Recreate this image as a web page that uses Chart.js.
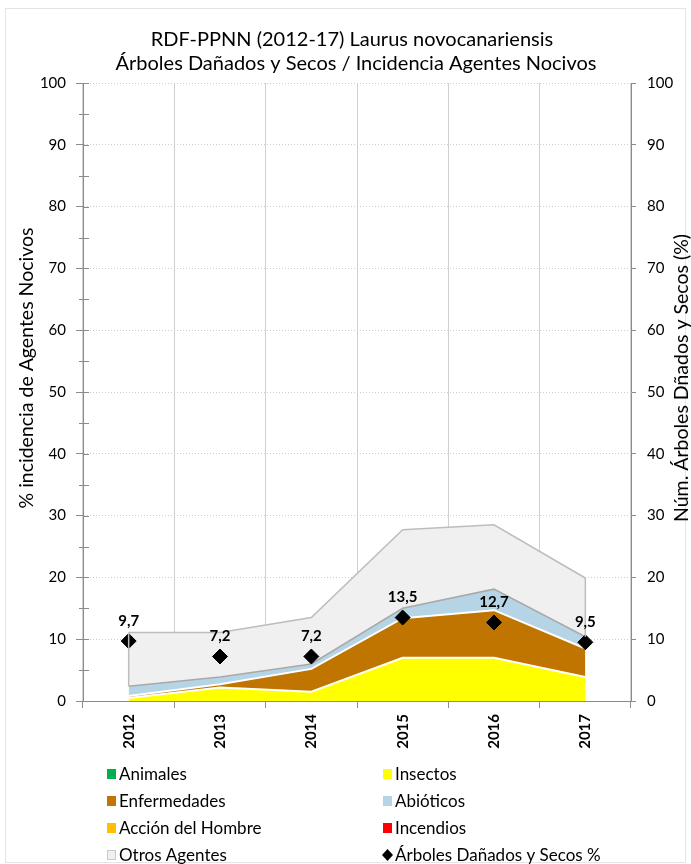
<!DOCTYPE html>
<html>
<head>
<meta charset="utf-8">
<script src="https://cdn.jsdelivr.net/npm/chart.js@4.4.1/dist/chart.umd.min.js"></script>
<style>
  html, body { margin: 0; padding: 0; background: #fff; }
  #wrap { width: 691px; height: 864px; position: relative; }
</style>
</head>
<body>
<div id="wrap"><canvas id="chart"></canvas></div>
<script>
const years = ['2012', '2013', '2014', '2015', '2016', '2017'];

// % incidencia por agente (apilado)
const animales = [0, 0, 0, 0, 0, 0];
const insectos = [0.5, 2.2, 1.5, 7.0, 7.0, 3.9];
const enfermedades = [0.3, 0.5, 3.7, 6.4, 7.7, 4.6];
const abioticos = [1.6, 1.2, 0.8, 1.6, 3.4, 1.9];
const accionHombre = [0, 0, 0, 0, 0, 0];
const incendios = [0, 0, 0, 0, 0, 0];
const otrosAgentes = [8.7, 7.2, 7.5, 12.7, 10.4, 9.5];

// arboles dañados y secos (eje derecho)
const arbolesDanados = [9.7, 7.2, 7.2, 13.5, 12.7, 9.5];

const yTicks = [0, 10, 20, 30, 40, 50, 60, 70, 80, 90, 100];

const titleLines = ['RDF-PPNN (2012-17) Laurus novocanariensis', 'Árboles Dañados y Secos / Incidencia Agentes Nocivos'];
const leftTitle = '% incidencia de Agentes Nocivos';
const rightTitle = 'Núm. Árboles Dñados y Secos (%)';

const FONT = 'Lato, "Open Sans", sans-serif';

const area = (label, data, color, border, bw, fill) => ({
  label: label,
  data: data,
  backgroundColor: color,
  borderColor: border,
  borderWidth: bw,
  fill: fill,
  pointRadius: 0,
  tension: 0,
  yAxisID: 'y'
});

const datasets = [
  area('Animales', animales, '#00b050', 'rgba(0,0,0,0)', 0, 'origin'),
  area('Insectos', insectos, '#ffff00', '#ffffff', 2, '-1'),
  area('Enfermedades', enfermedades, '#c07500', '#ffffff', 2, '-1'),
  area('Abióticos', abioticos, '#b5d4e6', '#a9a9a9', 1.5, '-1'),
  area('Acción del Hombre', accionHombre, '#ffc000', 'rgba(0,0,0,0)', 0, '-1'),
  area('Incendios', incendios, '#ff0000', 'rgba(0,0,0,0)', 0, '-1'),
  area('Otros Agentes', otrosAgentes, '#f0f0f0', '#bdbdbd', 1.5, '-1'),
  {
    label: 'Árboles Dañados y Secos %',
    data: arbolesDanados,
    type: 'line',
    showLine: false,
    fill: false,
    pointStyle: 'rectRot',
    pointRadius: 7.5,
    pointBackgroundColor: '#000',
    pointBorderColor: '#000',
    backgroundColor: '#000',
    borderColor: '#000',
    yAxisID: 'y1',
    order: -1
  }
];

// titulo, titulos de ejes, marco, bordes laterales, etiquetas y leyenda
const decor = {
  id: 'decor',
  beforeDraw(chart) {
    const c = chart.ctx;
    c.save();
    c.fillStyle = '#fff';
    c.fillRect(0, 0, chart.width, chart.height);
    c.strokeStyle = '#e4e4e4';
    c.lineWidth = 1;
    c.strokeRect(5.5, 8.5, chart.width - 11, chart.height - 10);
    c.restore();
  },
  afterDatasetsDraw(chart) {
    const c = chart.ctx;
    const top = chart.getDatasetMeta(6).data;
    const bot = chart.getDatasetMeta(5).data;
    c.save();
    c.strokeStyle = '#bdbdbd';
    c.lineWidth = 1.5;
    [0, years.length - 1].forEach(i => {
      c.beginPath();
      c.moveTo(top[i].x, top[i].y);
      c.lineTo(bot[i].x, bot[i].y);
      c.stroke();
    });
    // etiquetas de los rombos
    const pts = chart.getDatasetMeta(7).data;
    c.fillStyle = '#000';
    c.font = 'bold 15px ' + FONT;
    c.textAlign = 'center';
    c.textBaseline = 'middle';
    pts.forEach((p, i) => {
      c.fillText(arbolesDanados[i].toFixed(1).replace('.', ','), p.x, p.y - 20);
    });
    c.restore();
  },
  afterDraw(chart) {
    const c = chart.ctx;
    const a = chart.chartArea;
    const ys = chart.scales.y;
    c.save();
    // marcas menores / cruzadas en eje izquierdo
    c.strokeStyle = '#8c8c8c';
    c.lineWidth = 1;
    for (let v = 0; v <= 100; v += 5) {
      const py = Math.round(ys.getPixelForValue(v)) + 0.5;
      c.beginPath();
      c.moveTo(v % 10 === 0 ? a.left : a.left - 4, py);
      c.lineTo(a.left + 6, py);
      c.stroke();
    }
    // titulo
    c.fillStyle = '#000';
    c.textAlign = 'center';
    c.textBaseline = 'middle';
    c.font = '20px ' + FONT;
    c.fillText(titleLines[0], 352, 40);
    c.fillText(titleLines[1], 356, 64);
    // titulos de ejes
    c.font = '19.5px ' + FONT;
    c.save();
    c.translate(27, 368);
    c.rotate(-Math.PI / 2);
    c.fillText(leftTitle, 0, 0);
    c.restore();
    c.save();
    c.translate(682, 378);
    c.rotate(-Math.PI / 2);
    c.fillText(rightTitle, 0, 0);
    c.restore();
    // leyenda en dos columnas
    const cols = [107, 383];
    const rows = [774, 801, 828, 855];
    c.font = '17px ' + FONT;
    c.textAlign = 'left';
    chart.data.datasets.forEach((ds, i) => {
      const x = cols[i % 2];
      const y = rows[Math.floor(i / 2)];
      if (ds.pointStyle === 'rectRot') {
        c.fillStyle = '#000';
        c.beginPath();
        c.moveTo(x + 4.5, y - 6);
        c.lineTo(x + 10, y);
        c.lineTo(x + 4.5, y + 6);
        c.lineTo(x - 1, y);
        c.closePath();
        c.fill();
      } else {
        c.fillStyle = ds.backgroundColor;
        c.fillRect(x, y - 5, 9, 10);
        if (ds.label === 'Otros Agentes') {
          c.strokeStyle = '#c8c8c8';
          c.strokeRect(x + 0.5, y - 4.5, 8, 9);
        }
      }
      c.fillStyle = '#000';
      c.fillText(ds.label, x + 12, y + 1);
    });
    c.restore();
  }
};

new Chart(document.getElementById('chart'), {
  type: 'line',
  data: { labels: years, datasets: datasets },
  plugins: [decor],
  options: {
    responsive: true,
    maintainAspectRatio: false,
    animation: false,
    layout: { padding: { top: 83, bottom: 93, left: 0, right: 0 } },
    plugins: {
      legend: { display: false },
      tooltip: { enabled: false },
      title: { display: false }
    },
    scales: {
      x: {
        offset: true,
        grid: { offset: true, color: '#d0d0d0', tickLength: 7, tickColor: '#8c8c8c' },
        border: { color: '#8c8c8c' },
        ticks: {
          minRotation: 90, maxRotation: 90, padding: 6,
          color: '#000', font: { family: FONT, size: 15, weight: 'bold' }
        },
        afterFit: (s) => { s.height = 70; }
      },
      y: {
        stacked: true,
        min: 0, max: 100,
        afterBuildTicks: (s) => { s.ticks = yTicks.map(v => ({ value: v })); },
        grid: { color: '#cccccc', tickLength: 7, tickColor: '#8c8c8c', borderDash: [1, 2] },
        border: { color: '#8c8c8c', dash: [1, 2] },
        ticks: { padding: 10, color: '#000', font: { family: FONT, size: 15 } },
        afterFit: (s) => { s.width = 83; }
      },
      y1: {
        position: 'right',
        min: 0, max: 100,
        afterBuildTicks: (s) => { s.ticks = yTicks.map(v => ({ value: v })); },
        grid: { drawOnChartArea: false, tickLength: 5, tickColor: '#8c8c8c' },
        border: { color: '#8c8c8c' },
        ticks: { padding: 11, color: '#000', font: { family: FONT, size: 15 } },
        afterFit: (s) => { s.width = 60; }
      }
    }
  }
});
</script>
</body>
</html>
